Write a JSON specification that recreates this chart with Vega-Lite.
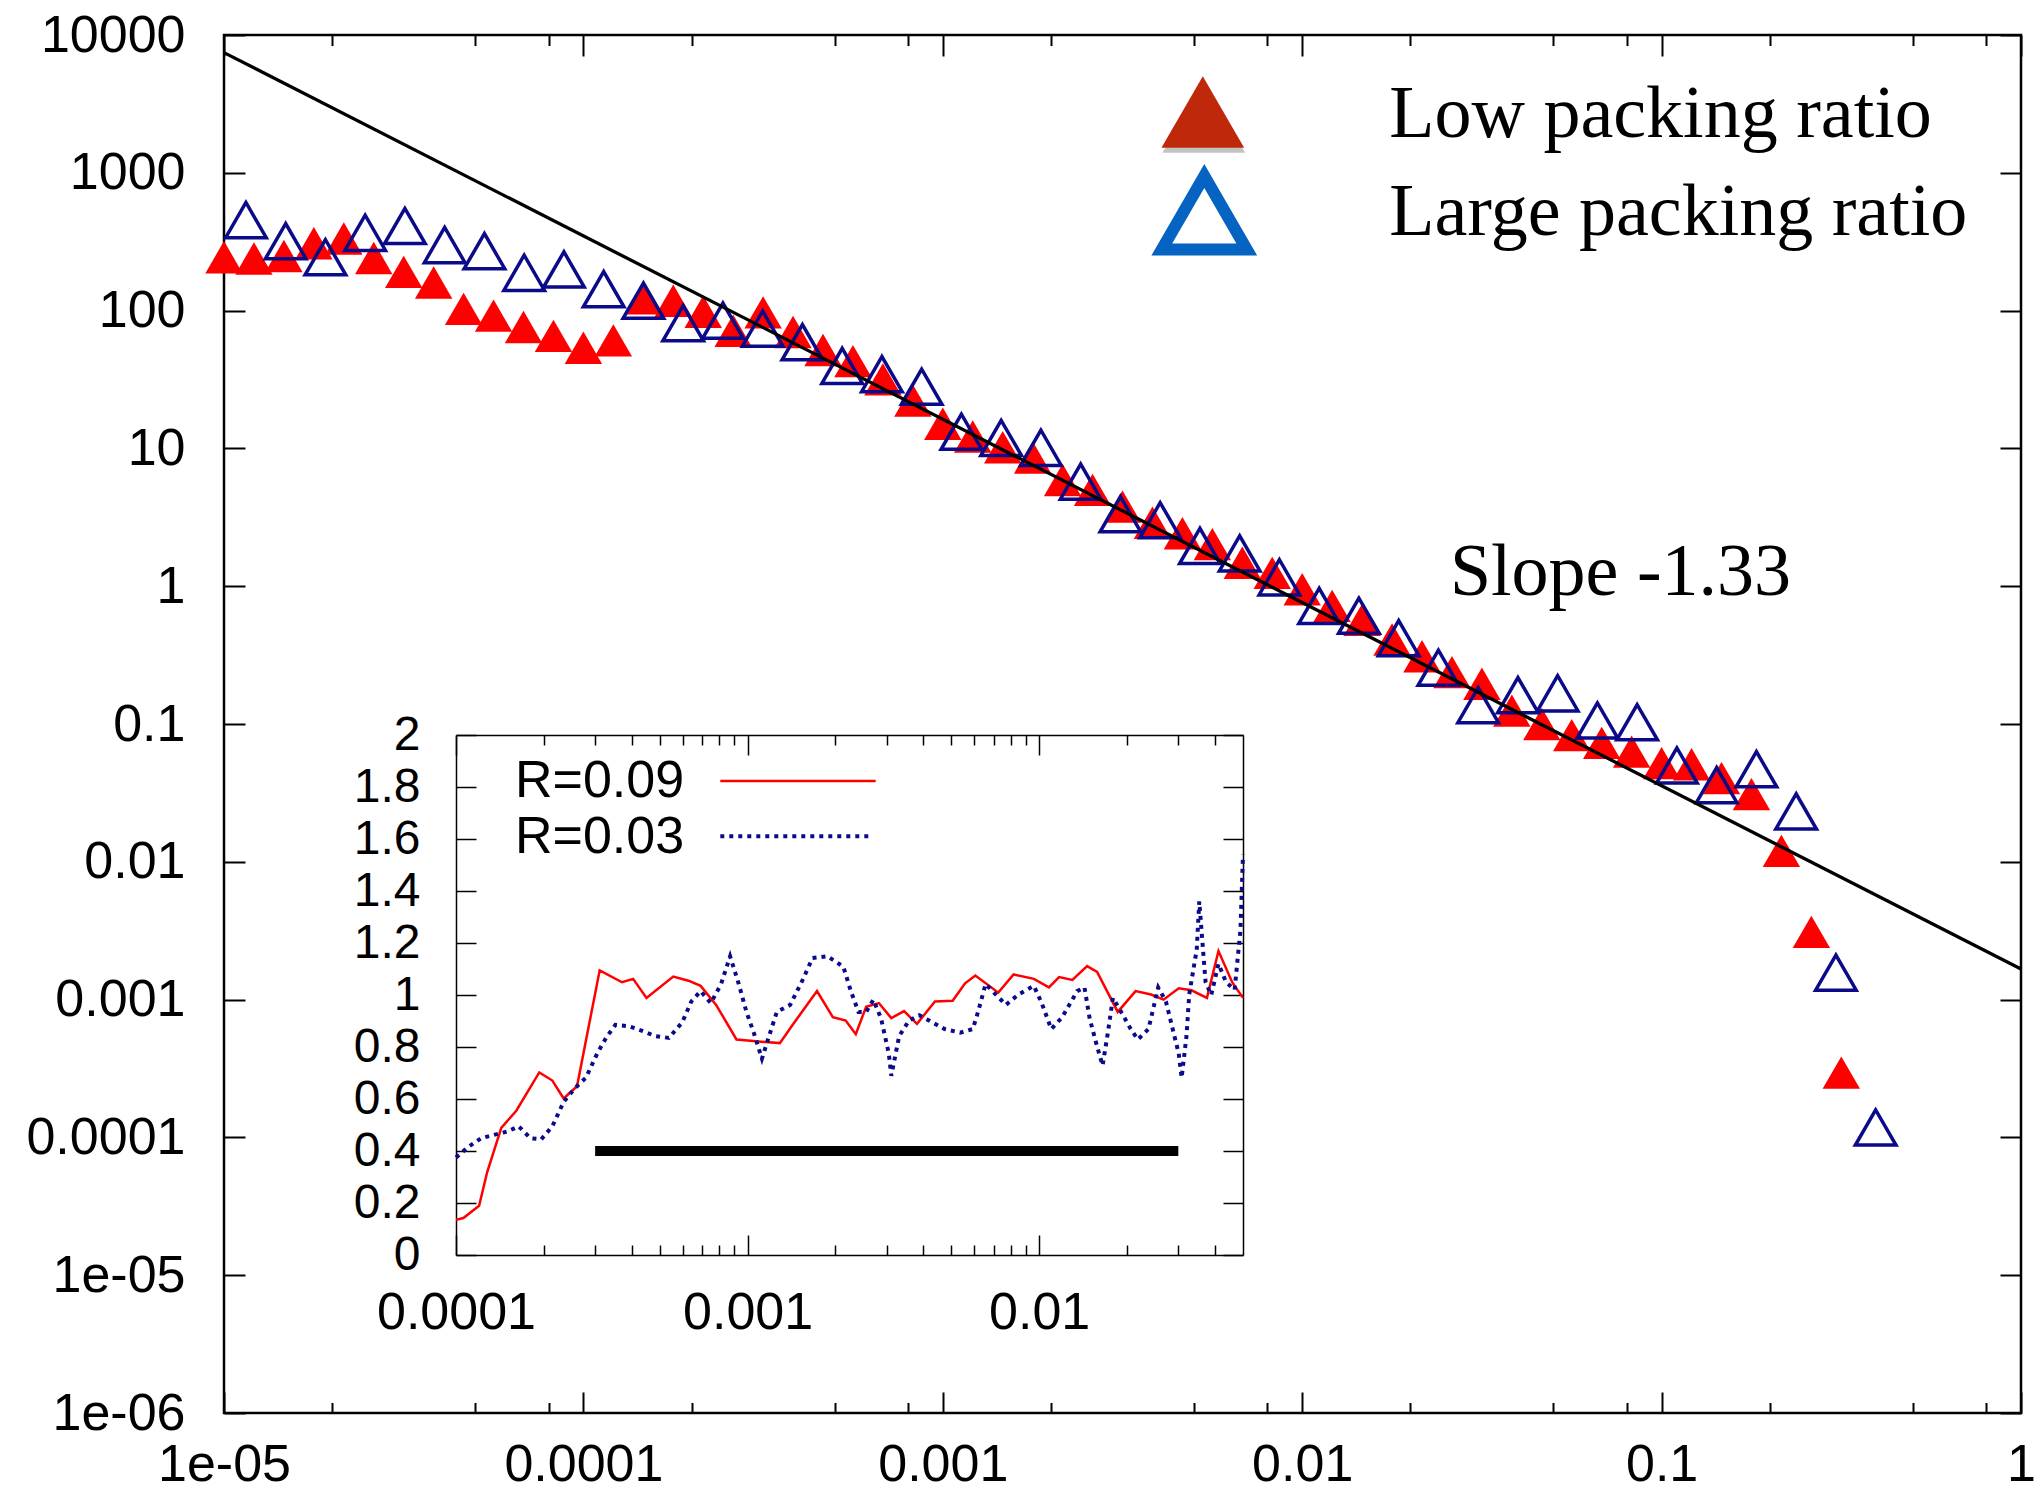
{
  "$schema": "https://vega.github.io/schema/vega-lite/v6.json",
  "width": 1797,
  "height": 1378,
  "autosize": {"type": "none"},
  "padding": {"left": 224, "top": 35, "right": 23, "bottom": 79},
  "background": "white",
  "config": {
    "view": {"stroke": "#000000", "strokeWidth": 2.5},
    "axis": {
      "grid": false,
      "labelFont": "Liberation Sans",
      "labelFontSize": 52,
      "labelColor": "#000000",
      "tickColor": "#000000",
      "tickWidth": 2,
      "domainColor": "#000000",
      "labelFlush": false,
      "labelOverlap": false,
      "labelBound": false
    }
  },
  "datasets": {
    "low": [
      {"s": 0.00001, "P": 244}, {"s": 0.000012115, "P": 239}, {"s": 0.000014678, "P": 249},
      {"s": 0.000017783, "P": 308}, {"s": 0.000021544, "P": 334}, {"s": 0.000026102, "P": 241},
      {"s": 0.000031623, "P": 191}, {"s": 0.000038312, "P": 160}, {"s": 0.000046416, "P": 103},
      {"s": 0.000056234, "P": 92}, {"s": 0.000068129, "P": 76}, {"s": 0.00008254, "P": 65.6},
      {"s": 0.0001, "P": 53.7}, {"s": 0.00012115, "P": 60.8}, {"s": 0.00014678, "P": 123},
      {"s": 0.00017783, "P": 118}, {"s": 0.00021544, "P": 98}, {"s": 0.00026102, "P": 71.5},
      {"s": 0.00031623, "P": 97}, {"s": 0.00038312, "P": 70}, {"s": 0.00046416, "P": 51.8},
      {"s": 0.00056234, "P": 43}, {"s": 0.00068129, "P": 31.7}, {"s": 0.0008254, "P": 22.2},
      {"s": 0.001, "P": 15.1}, {"s": 0.0012115, "P": 12.2}, {"s": 0.0014678, "P": 10.2},
      {"s": 0.0017783, "P": 8.6}, {"s": 0.0021544, "P": 5.9}, {"s": 0.0026102, "P": 5.0},
      {"s": 0.0031623, "P": 3.78}, {"s": 0.0038312, "P": 2.89}, {"s": 0.0046416, "P": 2.42},
      {"s": 0.0056234, "P": 2.02}, {"s": 0.0068129, "P": 1.48}, {"s": 0.008254, "P": 1.25},
      {"s": 0.01, "P": 0.95}, {"s": 0.012115, "P": 0.72}, {"s": 0.014678, "P": 0.57},
      {"s": 0.017783, "P": 0.41}, {"s": 0.021544, "P": 0.31}, {"s": 0.026102, "P": 0.238},
      {"s": 0.031623, "P": 0.196}, {"s": 0.038312, "P": 0.125}, {"s": 0.046416, "P": 0.1},
      {"s": 0.056234, "P": 0.083}, {"s": 0.068129, "P": 0.073}, {"s": 0.08254, "P": 0.063},
      {"s": 0.1, "P": 0.052}, {"s": 0.12115, "P": 0.051}, {"s": 0.14678, "P": 0.0405},
      {"s": 0.17783, "P": 0.031}, {"s": 0.21544, "P": 0.012}, {"s": 0.26102, "P": 0.0031},
      {"s": 0.31623, "P": 0.000295}
    ],
    "large": [
      {"s": 0.00001151, "P": 454}, {"s": 0.000014846, "P": 319}, {"s": 0.000019152, "P": 244},
      {"s": 0.000024706, "P": 367}, {"s": 0.000031869, "P": 411}, {"s": 0.000041115, "P": 299},
      {"s": 0.000053039, "P": 270}, {"s": 0.000068423, "P": 188}, {"s": 0.000088265, "P": 199},
      {"s": 0.00011386, "P": 143}, {"s": 0.00014689, "P": 118}, {"s": 0.00018948, "P": 81},
      {"s": 0.00024444, "P": 84.5}, {"s": 0.00031534, "P": 74}, {"s": 0.00040679, "P": 59},
      {"s": 0.00052481, "P": 39.7}, {"s": 0.00067703, "P": 34.6}, {"s": 0.00087339, "P": 28},
      {"s": 0.0011267, "P": 13.2}, {"s": 0.0014535, "P": 11.9}, {"s": 0.001875, "P": 10.1},
      {"s": 0.0024188, "P": 5.74}, {"s": 0.0031204, "P": 3.33}, {"s": 0.0040254, "P": 3.01},
      {"s": 0.0051929, "P": 1.96}, {"s": 0.0066988, "P": 1.73}, {"s": 0.0086418, "P": 1.16},
      {"s": 0.011148, "P": 0.72}, {"s": 0.014381, "P": 0.61}, {"s": 0.018553, "P": 0.42},
      {"s": 0.023933, "P": 0.256}, {"s": 0.030875, "P": 0.137}, {"s": 0.03983, "P": 0.162},
      {"s": 0.051381, "P": 0.167}, {"s": 0.066283, "P": 0.106}, {"s": 0.085507, "P": 0.103},
      {"s": 0.11031, "P": 0.050}, {"s": 0.1423, "P": 0.036}, {"s": 0.18357, "P": 0.047},
      {"s": 0.23681, "P": 0.0232}, {"s": 0.30549, "P": 0.00157}, {"s": 0.39411, "P": 0.000118}
    ],
    "fit": [
      {"s": 0.00001, "P": 7447},
      {"s": 1, "P": 0.001667}
    ],
    "legendMarks": [
      {"entry": "low", "s": 0.00529, "P": 2762},
      {"entry": "large", "s": 0.00534, "P": 513}
    ],
    "legendText": [
      {"label": "Low packing ratio", "s": 0.01747, "P": 1828},
      {"label": "Large packing ratio", "s": 0.01747, "P": 354}
    ],
    "slopeLabel": [
      {"label": "Slope -1.33", "s": 0.02576, "P": 0.863}
    ],
    "r009": [
      {"s": 0.0001, "ratio": 0.135}, {"s": 0.000106, "ratio": 0.142}, {"s": 0.00012, "ratio": 0.189},
      {"s": 0.000128, "ratio": 0.32}, {"s": 0.000143, "ratio": 0.489}, {"s": 0.000161, "ratio": 0.555},
      {"s": 0.000193, "ratio": 0.702}, {"s": 0.000214, "ratio": 0.671}, {"s": 0.000234, "ratio": 0.602},
      {"s": 0.00026, "ratio": 0.649}, {"s": 0.000311, "ratio": 1.095}, {"s": 0.000371, "ratio": 1.049},
      {"s": 0.000405, "ratio": 1.062}, {"s": 0.00045, "ratio": 0.989}, {"s": 0.000556, "ratio": 1.071},
      {"s": 0.000627, "ratio": 1.055}, {"s": 0.00069, "ratio": 1.035}, {"s": 0.00078, "ratio": 0.962},
      {"s": 0.000916, "ratio": 0.829}, {"s": 0.00107, "ratio": 0.822}, {"s": 0.00129, "ratio": 0.815},
      {"s": 0.00142, "ratio": 0.882}, {"s": 0.00173, "ratio": 1.015}, {"s": 0.00196, "ratio": 0.915},
      {"s": 0.00217, "ratio": 0.902}, {"s": 0.00235, "ratio": 0.849}, {"s": 0.00255, "ratio": 0.955},
      {"s": 0.00282, "ratio": 0.969}, {"s": 0.00311, "ratio": 0.911}, {"s": 0.00344, "ratio": 0.938},
      {"s": 0.00381, "ratio": 0.889}, {"s": 0.00439, "ratio": 0.975}, {"s": 0.00505, "ratio": 0.978},
      {"s": 0.00557, "ratio": 1.045}, {"s": 0.00604, "ratio": 1.075}, {"s": 0.00724, "ratio": 1.009},
      {"s": 0.00817, "ratio": 1.079}, {"s": 0.00959, "ratio": 1.062}, {"s": 0.0108, "ratio": 1.029},
      {"s": 0.0117, "ratio": 1.069}, {"s": 0.013, "ratio": 1.058}, {"s": 0.0146, "ratio": 1.111},
      {"s": 0.0158, "ratio": 1.089}, {"s": 0.0186, "ratio": 0.935}, {"s": 0.0214, "ratio": 1.015},
      {"s": 0.0242, "ratio": 1.002}, {"s": 0.0267, "ratio": 0.982}, {"s": 0.0301, "ratio": 1.026},
      {"s": 0.0333, "ratio": 1.018}, {"s": 0.0376, "ratio": 0.989}, {"s": 0.0412, "ratio": 1.169},
      {"s": 0.0459, "ratio": 1.049}, {"s": 0.05, "ratio": 0.989}
    ],
    "r003": [
      {"s": 0.0001, "ratio": 0.375}, {"s": 0.00011, "ratio": 0.415}, {"s": 0.000122, "ratio": 0.449},
      {"s": 0.000135, "ratio": 0.462}, {"s": 0.00015, "ratio": 0.475}, {"s": 0.000164, "ratio": 0.495},
      {"s": 0.00018, "ratio": 0.449}, {"s": 0.000196, "ratio": 0.445}, {"s": 0.000214, "ratio": 0.495},
      {"s": 0.000234, "ratio": 0.589}, {"s": 0.000256, "ratio": 0.642}, {"s": 0.000279, "ratio": 0.682},
      {"s": 0.000305, "ratio": 0.775}, {"s": 0.000327, "ratio": 0.835}, {"s": 0.000352, "ratio": 0.885},
      {"s": 0.000391, "ratio": 0.88}, {"s": 0.000435, "ratio": 0.862}, {"s": 0.000483, "ratio": 0.842},
      {"s": 0.000537, "ratio": 0.835}, {"s": 0.000597, "ratio": 0.895}, {"s": 0.000641, "ratio": 0.975},
      {"s": 0.00069, "ratio": 1.015}, {"s": 0.000748, "ratio": 0.969}, {"s": 0.000811, "ratio": 1.042},
      {"s": 0.000871, "ratio": 1.149}, {"s": 0.000933, "ratio": 1.042}, {"s": 0.000991, "ratio": 0.935},
      {"s": 0.00105, "ratio": 0.855}, {"s": 0.00112, "ratio": 0.755}, {"s": 0.00119, "ratio": 0.849},
      {"s": 0.00126, "ratio": 0.935}, {"s": 0.0014, "ratio": 0.962}, {"s": 0.00154, "ratio": 1.055},
      {"s": 0.00167, "ratio": 1.142}, {"s": 0.00188, "ratio": 1.149}, {"s": 0.00213, "ratio": 1.109},
      {"s": 0.00226, "ratio": 1.015}, {"s": 0.0024, "ratio": 0.935}, {"s": 0.00255, "ratio": 0.935},
      {"s": 0.0027, "ratio": 0.982}, {"s": 0.00287, "ratio": 0.909}, {"s": 0.00305, "ratio": 0.775},
      {"s": 0.00311, "ratio": 0.689}, {"s": 0.00331, "ratio": 0.842}, {"s": 0.00358, "ratio": 0.902},
      {"s": 0.00388, "ratio": 0.922}, {"s": 0.0043, "ratio": 0.895}, {"s": 0.00474, "ratio": 0.869},
      {"s": 0.00536, "ratio": 0.855}, {"s": 0.00592, "ratio": 0.869}, {"s": 0.00617, "ratio": 0.935},
      {"s": 0.00655, "ratio": 1.042}, {"s": 0.0071, "ratio": 1.002}, {"s": 0.00769, "ratio": 0.962},
      {"s": 0.00849, "ratio": 1.002}, {"s": 0.00959, "ratio": 1.035}, {"s": 0.0102, "ratio": 0.969},
      {"s": 0.011, "ratio": 0.869}, {"s": 0.012, "ratio": 0.915}, {"s": 0.0135, "ratio": 1.015},
      {"s": 0.0143, "ratio": 1.029}, {"s": 0.0149, "ratio": 0.909}, {"s": 0.0158, "ratio": 0.802},
      {"s": 0.0165, "ratio": 0.729}, {"s": 0.0172, "ratio": 0.855}, {"s": 0.0179, "ratio": 0.989},
      {"s": 0.0194, "ratio": 0.922}, {"s": 0.0206, "ratio": 0.869}, {"s": 0.0218, "ratio": 0.829},
      {"s": 0.0237, "ratio": 0.869}, {"s": 0.0256, "ratio": 1.029}, {"s": 0.0272, "ratio": 0.975},
      {"s": 0.0289, "ratio": 0.855}, {"s": 0.0301, "ratio": 0.775}, {"s": 0.0308, "ratio": 0.682},
      {"s": 0.032, "ratio": 0.842}, {"s": 0.0327, "ratio": 1.002}, {"s": 0.0347, "ratio": 1.175},
      {"s": 0.0354, "ratio": 1.36}, {"s": 0.0372, "ratio": 1.05}, {"s": 0.0389, "ratio": 1.0},
      {"s": 0.0412, "ratio": 1.12}, {"s": 0.0437, "ratio": 1.05}, {"s": 0.0468, "ratio": 1.02},
      {"s": 0.049, "ratio": 1.25}, {"s": 0.05, "ratio": 1.54}
    ],
    "plateau": [
      {"s_from": 0.0003, "s_to": 0.03, "ratio": 0.4}
    ],
    "insetKey": [
      {"key": "R=0.09", "s_from": 0.000806, "s_to": 0.00275, "ratio": 1.823},
      {"key": "R=0.03", "s_from": 0.000806, "s_to": 0.0026, "ratio": 1.611}
    ],
    "insetKeyText": [
      {"key": "R=0.09", "s": 0.000606, "ratio": 1.823},
      {"key": "R=0.03", "s": 0.000606, "ratio": 1.607}
    ]
  },
  "layer": [
    {
      "layer": [
        {
          "data": {"name": "low"},
          "mark": {"type": "point", "shape": "triangle-up", "filled": true, "color": "#ff0000", "opacity": 1, "size": 1400, "strokeWidth": 0},
          "encoding": {
            "x": {"field": "s", "type": "quantitative", "scale": {"type": "log", "domain": [0.00001, 1], "nice": false},
                  "axis": {"orient": "bottom", "title": null, "values": [0.00001, 0.0001, 0.001, 0.01, 0.1, 1], "ticks": false, "domain": false, "labelPadding": 26,
                           "labelExpr": "datum.value < 0.00005 ? '1e-05' : datum.value < 0.0005 ? '0.0001' : datum.value < 0.005 ? '0.001' : datum.value < 0.05 ? '0.01' : datum.value < 0.5 ? '0.1' : '1'"}},
            "y": {"field": "P", "type": "quantitative", "scale": {"type": "log", "domain": [0.000001, 10000], "nice": false},
                  "axis": {"orient": "left", "title": null, "values": [0.000001, 0.00001, 0.0001, 0.001, 0.01, 0.1, 1, 10, 100, 1000, 10000], "ticks": false, "domain": false, "labelPadding": 39,
                           "labelExpr": "datum.value < 0.000005 ? '1e-06' : datum.value < 0.00005 ? '1e-05' : datum.value < 0.0005 ? '0.0001' : datum.value < 0.005 ? '0.001' : datum.value < 0.05 ? '0.01' : datum.value < 0.5 ? '0.1' : datum.value < 5 ? '1' : datum.value < 50 ? '10' : datum.value < 500 ? '100' : datum.value < 5000 ? '1000' : '10000'"}}
          }
        },
        {
          "data": {"name": "large"},
          "mark": {"type": "point", "shape": "triangle-up", "filled": false, "color": "#0b0b8a", "opacity": 1, "size": 1650, "strokeWidth": 3.5},
          "encoding": {
            "x": {"field": "s", "type": "quantitative", "scale": {"type": "log", "domain": [0.00001, 1], "nice": false},
                  "axis": {"orient": "bottom", "title": null, "values": [0.00001, 0.0001, 0.001, 0.01, 0.1, 1], "labels": false, "domain": false, "tickSize": -21}},
            "y": {"field": "P", "type": "quantitative", "scale": {"type": "log", "domain": [0.000001, 10000], "nice": false},
                  "axis": {"orient": "left", "title": null, "values": [0.000001, 0.00001, 0.0001, 0.001, 0.01, 0.1, 1, 10, 100, 1000, 10000], "labels": false, "domain": false, "tickSize": -21}}
          }
        },
        {
          "data": {"name": "fit"},
          "mark": {"type": "line", "color": "#000000", "strokeWidth": 3.3},
          "encoding": {
            "x": {"field": "s", "type": "quantitative", "scale": {"type": "log", "domain": [0.00001, 1], "nice": false},
                  "axis": {"orient": "bottom", "title": null, "values": [0.00002, 0.00005, 0.00008, 0.0002, 0.0005, 0.0008, 0.002, 0.005, 0.008, 0.02, 0.05, 0.08, 0.2, 0.5, 0.8], "labels": false, "domain": false, "tickSize": -10.5}},
            "y": {"field": "P", "type": "quantitative", "scale": {"type": "log", "domain": [0.000001, 10000], "nice": false},
                  "axis": {"orient": "right", "title": null, "values": [0.000001, 0.00001, 0.0001, 0.001, 0.01, 0.1, 1, 10, 100, 1000, 10000], "labels": false, "domain": false, "tickSize": -21}}
          }
        },
        {
          "data": {"name": "legendMarks"},
          "transform": [{"filter": "datum.entry == 'low'"}],
          "mark": {"type": "point", "shape": "triangle-up", "filled": true, "color": "#7a7a7a", "opacity": 0.45, "size": 6840, "strokeWidth": 0, "yOffset": 5, "xOffset": 1},
          "encoding": {
            "x": {"field": "s", "type": "quantitative", "scale": {"type": "log", "domain": [0.00001, 1], "nice": false},
                  "axis": {"orient": "top", "title": null, "values": [0.00001, 0.0001, 0.001, 0.01, 0.1, 1], "labels": false, "domain": false, "tickSize": -21}},
            "y": {"field": "P", "type": "quantitative", "scale": {"type": "log", "domain": [0.000001, 10000], "nice": false}, "axis": null}
          }
        },
        {
          "data": {"name": "legendMarks"},
          "transform": [{"filter": "datum.entry == 'low'"}],
          "mark": {"type": "point", "shape": "triangle-up", "filled": true, "color": "#c0280c", "opacity": 1, "size": 6840, "strokeWidth": 0},
          "encoding": {
            "x": {"field": "s", "type": "quantitative", "scale": {"type": "log", "domain": [0.00001, 1], "nice": false},
                  "axis": {"orient": "top", "title": null, "values": [0.00002, 0.00005, 0.00008, 0.0002, 0.0005, 0.0008, 0.002, 0.005, 0.008, 0.02, 0.05, 0.08, 0.2, 0.5, 0.8], "labels": false, "domain": false, "tickSize": -10.5}},
            "y": {"field": "P", "type": "quantitative", "scale": {"type": "log", "domain": [0.000001, 10000], "nice": false}, "axis": null}
          }
        },
        {
          "data": {"name": "legendMarks"},
          "transform": [{"filter": "datum.entry == 'large'"}],
          "mark": {"type": "point", "shape": "triangle-up", "filled": false, "color": "#0563c1", "opacity": 1, "size": 7225, "strokeWidth": 12},
          "encoding": {
            "x": {"field": "s", "type": "quantitative", "scale": {"type": "log", "domain": [0.00001, 1], "nice": false}, "axis": null},
            "y": {"field": "P", "type": "quantitative", "scale": {"type": "log", "domain": [0.000001, 10000], "nice": false}, "axis": null}
          }
        },
        {
          "data": {"name": "legendText"},
          "mark": {"type": "text", "font": "Liberation Serif", "fontSize": 74, "align": "left", "baseline": "alphabetic", "color": "#000000"},
          "encoding": {
            "x": {"field": "s", "type": "quantitative", "scale": {"type": "log", "domain": [0.00001, 1], "nice": false}, "axis": null},
            "y": {"field": "P", "type": "quantitative", "scale": {"type": "log", "domain": [0.000001, 10000], "nice": false}, "axis": null},
            "text": {"field": "label"}
          }
        },
        {
          "data": {"name": "slopeLabel"},
          "mark": {"type": "text", "font": "Liberation Serif", "fontSize": 74, "align": "left", "baseline": "alphabetic", "color": "#000000"},
          "encoding": {
            "x": {"field": "s", "type": "quantitative", "scale": {"type": "log", "domain": [0.00001, 1], "nice": false}, "axis": null},
            "y": {"field": "P", "type": "quantitative", "scale": {"type": "log", "domain": [0.000001, 10000], "nice": false}, "axis": null},
            "text": {"field": "label"}
          }
        }
      ],
      "resolve": {"axis": {"x": "independent", "y": "independent"}}
    },
    {
      "layer": [
        {
          "data": {"name": "r009"},
          "mark": {"type": "line", "color": "#ff0000", "strokeWidth": 2.5},
          "encoding": {
            "x": {"field": "s", "type": "quantitative", "scale": {"type": "log", "domain": [0.0001, 0.05], "range": [232, 1019], "nice": false},
                  "axis": {"orient": "bottom", "offset": -158, "title": null, "values": [0.0001, 0.001, 0.01], "ticks": false, "domain": true, "domainWidth": 1.5, "labelPadding": 32,
                           "labelExpr": "datum.value < 0.0005 ? '0.0001' : datum.value < 0.005 ? '0.001' : '0.01'"}},
            "y": {"field": "ratio", "type": "quantitative", "scale": {"type": "linear", "domain": [0, 2], "range": [1220, 700], "nice": false, "zero": false},
                  "axis": {"orient": "left", "offset": -232, "title": null, "values": [0, 0.2, 0.4, 0.6, 0.8, 1, 1.2, 1.4, 1.6, 1.8, 2], "ticks": false, "domain": true, "domainWidth": 1.5, "labelPadding": 36, "labelFontSize": 48, "format": "~g"}}
          }
        },
        {
          "data": {"name": "r003"},
          "mark": {"type": "line", "color": "#0b0b8a", "strokeWidth": 4, "strokeDash": [4, 5], "strokeCap": "butt"},
          "encoding": {
            "x": {"field": "s", "type": "quantitative", "scale": {"type": "log", "domain": [0.0001, 0.05], "range": [232, 1019], "nice": false},
                  "axis": {"orient": "bottom", "offset": -158, "title": null, "values": [0.0001, 0.001, 0.01], "labels": false, "domain": false, "tickSize": -20, "tickWidth": 1.5}},
            "y": {"field": "ratio", "type": "quantitative", "scale": {"type": "linear", "domain": [0, 2], "range": [1220, 700], "nice": false, "zero": false},
                  "axis": {"orient": "left", "offset": -232, "title": null, "values": [0, 0.2, 0.4, 0.6, 0.8, 1, 1.2, 1.4, 1.6, 1.8, 2], "labels": false, "domain": false, "tickSize": -20, "tickWidth": 1.5}}
          }
        },
        {
          "data": {"name": "plateau"},
          "mark": {"type": "rule", "color": "#000000", "strokeWidth": 10, "strokeCap": "butt"},
          "encoding": {
            "x": {"field": "s_from", "type": "quantitative", "scale": {"type": "log", "domain": [0.0001, 0.05], "range": [232, 1019], "nice": false},
                  "axis": {"orient": "bottom", "offset": -158, "title": null, "values": [0.0002, 0.0003, 0.0004, 0.0005, 0.0006, 0.0007, 0.0008, 0.0009, 0.002, 0.003, 0.004, 0.005, 0.006, 0.007, 0.008, 0.009, 0.02, 0.03, 0.04], "labels": false, "domain": false, "tickSize": -10, "tickWidth": 1.5}},
            "x2": {"field": "s_to"},
            "y": {"field": "ratio", "type": "quantitative", "scale": {"type": "linear", "domain": [0, 2], "range": [1220, 700], "nice": false, "zero": false},
                  "axis": {"orient": "right", "offset": -778, "title": null, "values": [0, 0.2, 0.4, 0.6, 0.8, 1, 1.2, 1.4, 1.6, 1.8, 2], "labels": false, "domain": true, "domainWidth": 1.5, "tickSize": -20, "tickWidth": 1.5}}
          }
        },
        {
          "data": {"name": "insetKey"},
          "transform": [{"filter": "datum.key == 'R=0.09'"}],
          "mark": {"type": "rule", "color": "#ff0000", "strokeWidth": 2.5},
          "encoding": {
            "x": {"field": "s_from", "type": "quantitative", "scale": {"type": "log", "domain": [0.0001, 0.05], "range": [232, 1019], "nice": false},
                  "axis": {"orient": "top", "offset": -700, "title": null, "values": [0.0001, 0.001, 0.01], "labels": false, "domain": true, "domainWidth": 1.5, "tickSize": -20, "tickWidth": 1.5}},
            "x2": {"field": "s_to"},
            "y": {"field": "ratio", "type": "quantitative", "scale": {"type": "linear", "domain": [0, 2], "range": [1220, 700], "nice": false, "zero": false}, "axis": null}
          }
        },
        {
          "data": {"name": "insetKey"},
          "transform": [{"filter": "datum.key == 'R=0.03'"}],
          "mark": {"type": "rule", "color": "#0b0b8a", "strokeWidth": 4, "strokeDash": [4, 5], "strokeCap": "butt"},
          "encoding": {
            "x": {"field": "s_from", "type": "quantitative", "scale": {"type": "log", "domain": [0.0001, 0.05], "range": [232, 1019], "nice": false},
                  "axis": {"orient": "top", "offset": -700, "title": null, "values": [0.0002, 0.0003, 0.0004, 0.0005, 0.0006, 0.0007, 0.0008, 0.0009, 0.002, 0.003, 0.004, 0.005, 0.006, 0.007, 0.008, 0.009, 0.02, 0.03, 0.04], "labels": false, "domain": false, "tickSize": -10, "tickWidth": 1.5}},
            "x2": {"field": "s_to"},
            "y": {"field": "ratio", "type": "quantitative", "scale": {"type": "linear", "domain": [0, 2], "range": [1220, 700], "nice": false, "zero": false}, "axis": null}
          }
        },
        {
          "data": {"name": "insetKeyText"},
          "mark": {"type": "text", "font": "Liberation Sans", "fontSize": 52, "align": "right", "baseline": "middle", "color": "#000000"},
          "encoding": {
            "x": {"field": "s", "type": "quantitative", "scale": {"type": "log", "domain": [0.0001, 0.05], "range": [232, 1019], "nice": false}, "axis": null},
            "y": {"field": "ratio", "type": "quantitative", "scale": {"type": "linear", "domain": [0, 2], "range": [1220, 700], "nice": false, "zero": false}, "axis": null},
            "text": {"field": "key"}
          }
        }
      ],
      "resolve": {"axis": {"x": "independent", "y": "independent"}}
    }
  ],
  "resolve": {"scale": {"x": "independent", "y": "independent"}, "axis": {"x": "independent", "y": "independent"}}
}
